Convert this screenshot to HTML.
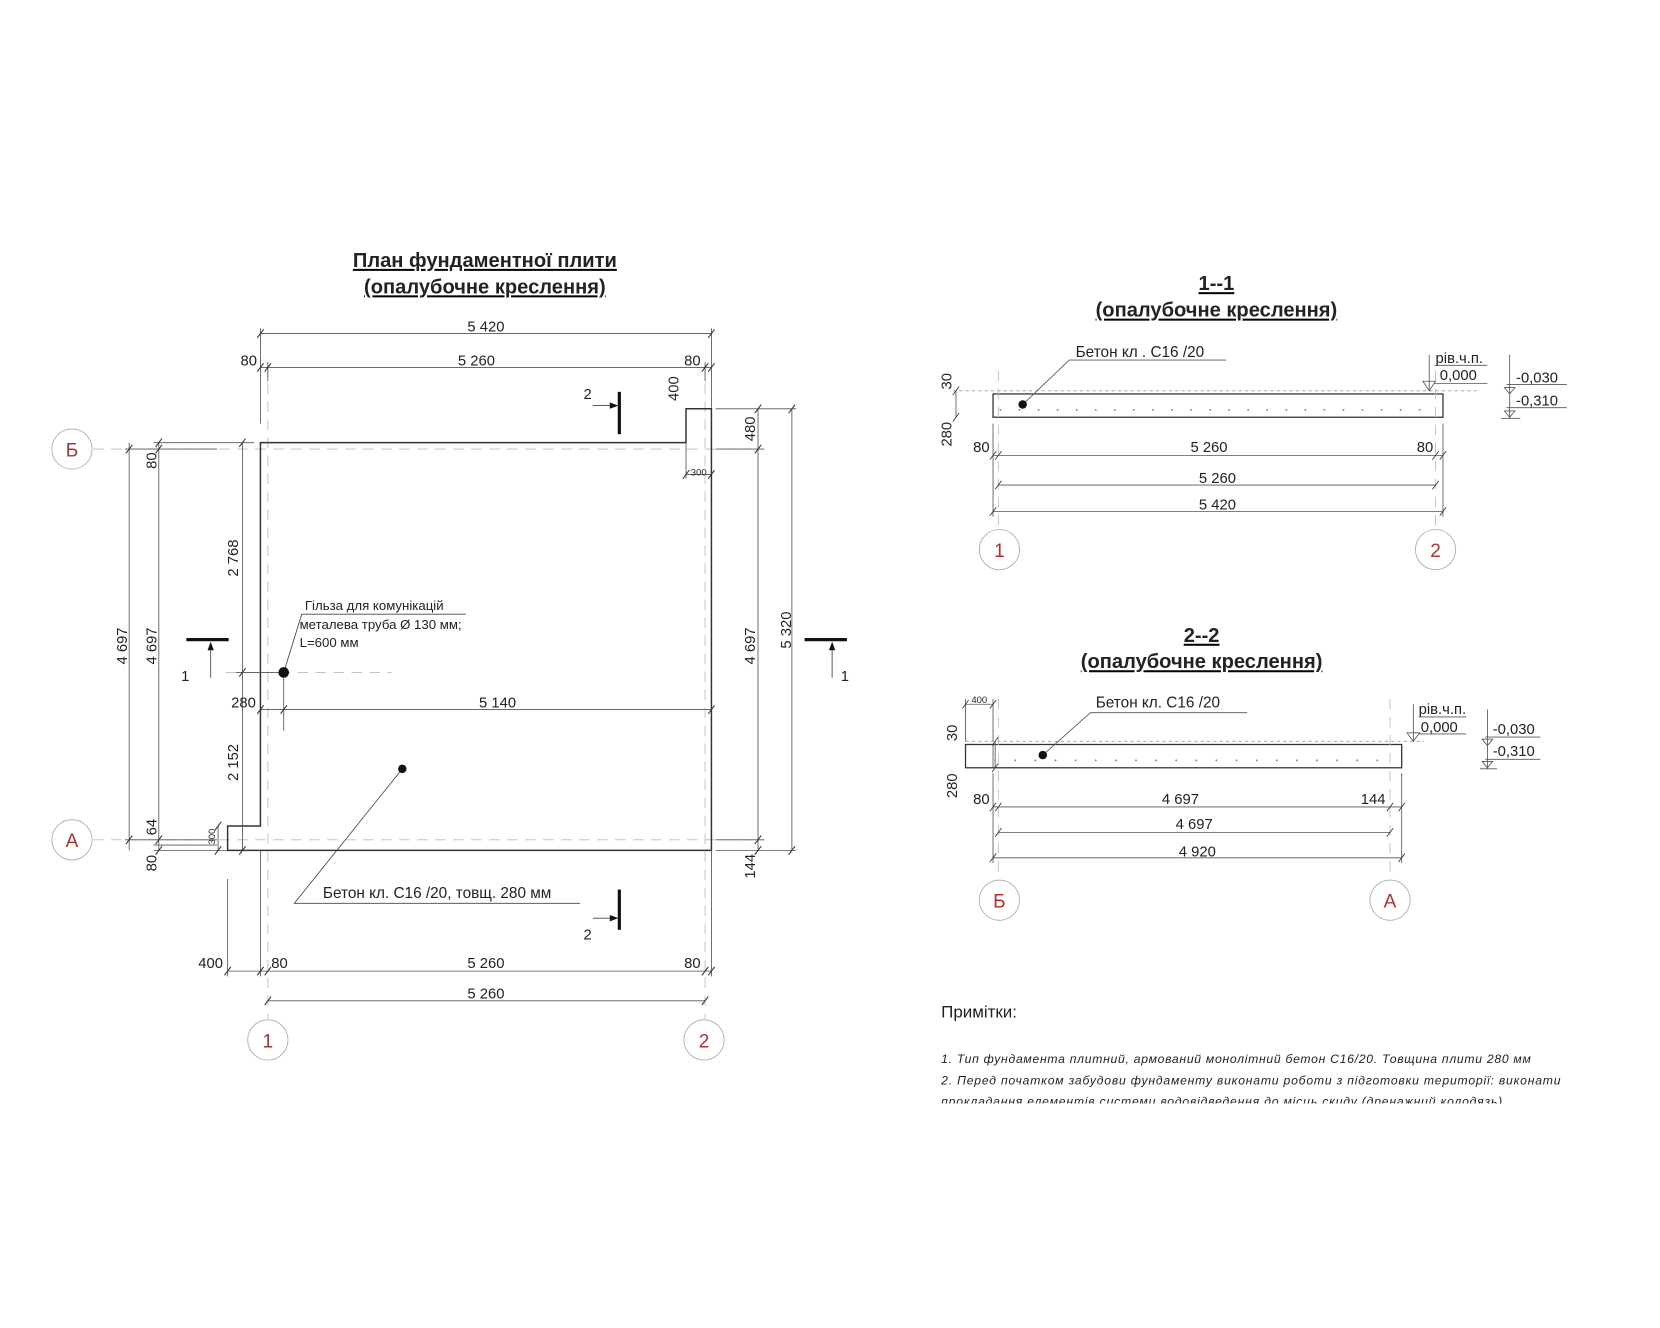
<!DOCTYPE html>
<html><head><meta charset="utf-8"><style>
html,body{margin:0;padding:0;background:#fff;}
svg{display:block;}
text{font-family:"Liberation Sans",sans-serif;fill:#222;}
.d{font-size:14px;}
.r{fill:#b03030;font-size:18px;}
</style></head><body>
<svg width="1660" height="1328" viewBox="0 0 1568 1254" preserveAspectRatio="none" xmlns="http://www.w3.org/2000/svg">
<rect width="1568" height="1254" fill="#fff"/>
<g stroke="#555" stroke-width="0.8" fill="none">
<g stroke="#bbb" stroke-dasharray="10,7">
<line x1="88" y1="424" x2="712" y2="424"/>
<line x1="88" y1="793" x2="712" y2="793"/>
<line x1="253" y1="345" x2="253" y2="962"/>
<line x1="666" y1="345" x2="666" y2="962"/>
<line x1="213" y1="635" x2="370" y2="635"/>
</g>
<path d="M246 418 L648 418 L648 386 L672 386 L672 803 L215 803 L215 780 L246 780 Z" stroke="#333" stroke-width="1.4"/>
<line x1="246" y1="315" x2="672" y2="315"/>
<line x1="246" y1="347" x2="672" y2="347"/>
<line x1="246" y1="310" x2="246" y2="400"/>
<line x1="672" y1="310" x2="672" y2="385"/>
<line x1="253" y1="342" x2="253" y2="360"/>
<line x1="666" y1="342" x2="666" y2="360"/>
<line x1="122" y1="418" x2="122" y2="803"/>
<line x1="150" y1="418" x2="150" y2="803"/>
<line x1="229" y1="418" x2="229" y2="803"/>
<line x1="118" y1="424" x2="205" y2="424"/>
<line x1="145" y1="418" x2="240" y2="418"/>
<line x1="118" y1="793" x2="205" y2="793"/>
<line x1="145" y1="798" x2="205" y2="798"/>
<line x1="145" y1="803" x2="215" y2="803"/>
<line x1="206" y1="780" x2="206" y2="803"/>
<line x1="223" y1="635" x2="268" y2="635"/>
<line x1="716" y1="386" x2="716" y2="803"/>
<line x1="748" y1="386" x2="748" y2="803"/>
<line x1="676" y1="386" x2="752" y2="386"/>
<line x1="676" y1="424" x2="722" y2="424"/>
<line x1="676" y1="793" x2="722" y2="793"/>
<line x1="676" y1="803" x2="752" y2="803"/>
<line x1="648" y1="448" x2="672" y2="448"/>
<line x1="648" y1="418" x2="648" y2="452"/>
<line x1="246" y1="670" x2="672" y2="670"/>
<line x1="268" y1="640" x2="268" y2="690"/>
<line x1="215" y1="917" x2="672" y2="917"/>
<line x1="253" y1="945" x2="666" y2="945"/>
<line x1="215" y1="830" x2="215" y2="922"/>
<line x1="246" y1="803" x2="246" y2="922"/>
<line x1="672" y1="803" x2="672" y2="922"/>
<g stroke="#333" stroke-width="1">
<path d="M243 319l6-8M669 319l6-8M243 351l6-8M250 351l6-8M663 351l6-8M669 351l6-8
M119 428l6-8M119 797l6-8M147 422l6-8M147 428l6-8M147 797l6-8M147 807l6-8M226 422l6-8M226 807l6-8M226 639l6-8
M713 390l6-8M713 428l6-8M713 797l6-8M713 807l6-8M745 390l6-8M745 807l6-8
M243 674l6-8M265 674l6-8M669 674l6-8
M212 921l6-8M243 921l6-8M250 921l6-8M663 921l6-8M669 921l6-8M250 949l6-8M663 949l6-8
M645 452l6-8M669 452l6-8M203 784l6-8M203 807l6-8"/>
</g>
<polyline points="268,635 285,580 440,580" stroke="#444"/>
<polyline points="380,726 278,853 548,853" stroke="#444"/>
</g>
<circle cx="268" cy="635" r="5" fill="#111"/>
<circle cx="380" cy="726" r="4" fill="#111"/>
<g stroke="#111" stroke-width="3">
<line x1="585" y1="370" x2="585" y2="410"/>
<line x1="585" y1="840" x2="585" y2="878"/>
<line x1="176" y1="604" x2="216" y2="604"/>
<line x1="760" y1="604" x2="800" y2="604"/>
</g>
<g stroke="#444" stroke-width="0.8">
<line x1="560" y1="383" x2="580" y2="383"/><line x1="560" y1="867" x2="580" y2="867"/>
<line x1="199" y1="640" x2="199" y2="610"/><line x1="786" y1="640" x2="786" y2="610"/>
</g>
<g fill="#111"><path d="M584 383l-8-3v6z"/><path d="M584 867l-8-3v6z"/><path d="M199 606l-3 8h6z"/><path d="M786 606l-3 8h6z"/></g>
<g fill="none" stroke="#aaa" stroke-width="0.8">
<circle cx="68" cy="424" r="19"/><circle cx="68" cy="793" r="19"/>
<circle cx="253" cy="982" r="19"/><circle cx="665" cy="982" r="19"/>
<circle cx="944" cy="519" r="19"/><circle cx="1356" cy="519" r="19"/>
<circle cx="944" cy="850" r="19"/><circle cx="1313" cy="850" r="19"/>
</g>
<g class="r" text-anchor="middle">
<text x="68" y="431" class="r">Б</text><text x="68" y="800" class="r">А</text>
<text x="253" y="989" class="r">1</text><text x="665" y="989" class="r">2</text>
<text x="944" y="526" class="r">1</text><text x="1356" y="526" class="r">2</text>
<text x="944" y="857" class="r">Б</text><text x="1313" y="857" class="r">А</text>
</g>
<g text-anchor="middle" font-weight="bold" font-size="19" text-decoration="underline">
<text x="458" y="252">План фундаментної плити</text>
<text x="458" y="277">(опалубочне креслення)</text>
<text x="1149" y="274">1--1</text>
<text x="1149" y="299">(опалубочне креслення)</text>
<text x="1135" y="606">2--2</text>
<text x="1135" y="631">(опалубочне креслення)</text>
</g>
<g class="d" text-anchor="middle">
<text x="459" y="313">5 420</text>
<text x="450" y="345">5 260</text>
<text x="235" y="345">80</text><text x="654" y="345">80</text>
<text x="470" y="668">5 140</text><text x="230" y="668">280</text>
<text x="199" y="914">400</text><text x="264" y="914">80</text><text x="459" y="914">5 260</text><text x="654" y="914">80</text>
<text x="459" y="943">5 260</text>
<text x="660" y="449" font-size="9">300</text>
<text transform="translate(120,610) rotate(-90)">4 697</text>
<text transform="translate(148,610) rotate(-90)">4 697</text>
<text transform="translate(148,435) rotate(-90)">80</text>
<text transform="translate(148,781) rotate(-90)">64</text>
<text transform="translate(148,815) rotate(-90)">80</text>
<text transform="translate(225,527) rotate(-90)">2 768</text>
<text transform="translate(225,720) rotate(-90)">2 152</text>
<text transform="translate(203,790) rotate(-90)" font-size="9">300</text>
<text transform="translate(713,610) rotate(-90)">4 697</text>
<text transform="translate(713,405) rotate(-90)">480</text>
<text transform="translate(713,818) rotate(-90)">144</text>
<text transform="translate(747,595) rotate(-90)">5 320</text>
<text transform="translate(641,367) rotate(-90)">400</text>
<text x="555" y="377">2</text><text x="555" y="887">2</text>
<text x="175" y="643">1</text><text x="798" y="643">1</text>
</g>
<g font-size="12.5">
<text x="288" y="576">Гільза для комунікацій</text>
<text x="283" y="594">металева труба  Ø 130 мм;</text>
<text x="283" y="611">L=600 мм</text>
<text x="305" y="848" font-size="14.5">Бетон кл. С16 /20, товщ. 280 мм</text>
</g>

<g stroke="#555" stroke-width="0.8" fill="none">
<line x1="900" y1="369" x2="1395" y2="369" stroke="#999" stroke-dasharray="3,3"/>
<rect x="938" y="372" width="425" height="22" stroke="#333" stroke-width="1.2"/>
<line x1="943" y1="350" x2="943" y2="500" stroke="#bbb" stroke-dasharray="10,7"/>
<line x1="1356" y1="350" x2="1356" y2="500" stroke="#bbb" stroke-dasharray="10,7"/>
<polyline points="966,382 1010,340 1158,340"/>
<line x1="938" y1="430" x2="1363" y2="430"/>
<line x1="943" y1="458" x2="1356" y2="458"/>
<line x1="938" y1="483" x2="1363" y2="483"/>
<line x1="938" y1="400" x2="938" y2="488"/><line x1="1363" y1="400" x2="1363" y2="488"/>
<line x1="903" y1="369" x2="903" y2="394"/>
<line x1="1426" y1="335" x2="1426" y2="395"/>
<line x1="1423" y1="363" x2="1480" y2="363"/><line x1="1423" y1="385" x2="1480" y2="385"/>
<line x1="1418" y1="395" x2="1436" y2="395"/>
<path d="M1421 366h10l-5 6zM1421 388h10l-5 6z"/>
<line x1="1355" y1="345" x2="1405" y2="345"/><line x1="1355" y1="362" x2="1405" y2="362"/>
<line x1="1350" y1="335" x2="1350" y2="369"/>
<path d="M1344 360h12l-6 9z"/>
<path d="M935 434l6-8M940 434l6-8M1353 434l6-8M1360 434l6-8M940 462l6-8M1353 462l6-8M935 487l6-8M1360 487l6-8M900 373l6-8M900 398l6-8" stroke="#333"/>
</g>
<circle cx="966" cy="382" r="4" fill="#111"/>
<g fill="#888">
<circle cx="945" cy="387" r="0.9"/><circle cx="963" cy="387" r="0.9"/><circle cx="981" cy="387" r="0.9"/><circle cx="999" cy="387" r="0.9"/><circle cx="1017" cy="387" r="0.9"/><circle cx="1035" cy="387" r="0.9"/><circle cx="1053" cy="387" r="0.9"/><circle cx="1071" cy="387" r="0.9"/><circle cx="1089" cy="387" r="0.9"/><circle cx="1107" cy="387" r="0.9"/><circle cx="1125" cy="387" r="0.9"/><circle cx="1143" cy="387" r="0.9"/><circle cx="1161" cy="387" r="0.9"/><circle cx="1179" cy="387" r="0.9"/><circle cx="1197" cy="387" r="0.9"/><circle cx="1215" cy="387" r="0.9"/><circle cx="1233" cy="387" r="0.9"/><circle cx="1251" cy="387" r="0.9"/><circle cx="1269" cy="387" r="0.9"/><circle cx="1287" cy="387" r="0.9"/><circle cx="1305" cy="387" r="0.9"/><circle cx="1323" cy="387" r="0.9"/><circle cx="1341" cy="387" r="0.9"/>
</g>
<g class="d">
<text x="1016" y="337" font-size="14.5">Бетон кл . С16 /20</text>
<text x="1356" y="343">рів.ч.п.</text>
<text x="1360" y="359">0,000</text>
<text x="1432" y="361">-0,030</text>
<text x="1432" y="383">-0,310</text>
<g text-anchor="middle">
<text x="927" y="427">80</text><text x="1142" y="427">5 260</text><text x="1346" y="427">80</text>
<text x="1150" y="456">5 260</text><text x="1150" y="481">5 420</text>
<text transform="translate(899,360) rotate(-90)">30</text>
<text transform="translate(899,410) rotate(-90)">280</text>
</g>
</g>

<g stroke="#555" stroke-width="0.8" fill="none">
<line x1="912" y1="700" x2="1345" y2="700" stroke="#999" stroke-dasharray="3,3"/>
<rect x="912" y="703" width="412" height="22" stroke="#333" stroke-width="1.2"/>
<line x1="938" y1="703" x2="938" y2="725"/>
<line x1="943" y1="660" x2="943" y2="830" stroke="#bbb" stroke-dasharray="10,7"/>
<line x1="1313" y1="660" x2="1313" y2="830" stroke="#bbb" stroke-dasharray="10,7"/>
<polyline points="985,713 1030,673 1178,673"/>
<line x1="912" y1="665" x2="938" y2="665"/>
<line x1="912" y1="660" x2="912" y2="700"/><line x1="938" y1="660" x2="938" y2="700"/>
<line x1="938" y1="762" x2="1324" y2="762"/>
<line x1="943" y1="786" x2="1313" y2="786"/>
<line x1="938" y1="810" x2="1324" y2="810"/>
<line x1="938" y1="730" x2="938" y2="815"/><line x1="1324" y1="730" x2="1324" y2="815"/>
<line x1="940" y1="700" x2="940" y2="725"/>
<line x1="1340" y1="677" x2="1385" y2="677"/><line x1="1340" y1="693" x2="1385" y2="693"/>
<line x1="1335" y1="665" x2="1335" y2="700"/>
<path d="M1329 692h12l-6 8z"/>
<line x1="1405" y1="670" x2="1405" y2="726"/>
<line x1="1403" y1="696" x2="1455" y2="696"/><line x1="1403" y1="717" x2="1455" y2="717"/>
<line x1="1398" y1="726" x2="1414" y2="726"/>
<path d="M1400 698h10l-5 6zM1400 719h10l-5 6z"/>
<path d="M935 766l6-8M940 766l6-8M1310 766l6-8M1321 766l6-8M940 790l6-8M1310 790l6-8M935 814l6-8M1321 814l6-8M909 669l6-8M935 669l6-8M937 704l6-8M937 729l6-8" stroke="#333"/>
</g>
<circle cx="985" cy="713" r="4" fill="#111"/>
<g fill="#888">
<circle cx="940" cy="718" r="0.9"/><circle cx="959" cy="718" r="0.9"/><circle cx="978" cy="718" r="0.9"/><circle cx="997" cy="718" r="0.9"/><circle cx="1016" cy="718" r="0.9"/><circle cx="1035" cy="718" r="0.9"/><circle cx="1054" cy="718" r="0.9"/><circle cx="1073" cy="718" r="0.9"/><circle cx="1092" cy="718" r="0.9"/><circle cx="1111" cy="718" r="0.9"/><circle cx="1130" cy="718" r="0.9"/><circle cx="1149" cy="718" r="0.9"/><circle cx="1168" cy="718" r="0.9"/><circle cx="1187" cy="718" r="0.9"/><circle cx="1206" cy="718" r="0.9"/><circle cx="1225" cy="718" r="0.9"/><circle cx="1244" cy="718" r="0.9"/><circle cx="1263" cy="718" r="0.9"/><circle cx="1282" cy="718" r="0.9"/><circle cx="1301" cy="718" r="0.9"/>
</g>
<g class="d">
<text x="1035" y="668" font-size="14.5">Бетон кл. С16 /20</text>
<text x="1340" y="674">рів.ч.п.</text>
<text x="1342" y="691">0,000</text>
<text x="1410" y="693">-0,030</text>
<text x="1410" y="714">-0,310</text>
<text x="925" y="664" font-size="9" text-anchor="middle">400</text>
<g text-anchor="middle">
<text x="927" y="759">80</text><text x="1115" y="759">4 697</text><text x="1297" y="759">144</text>
<text x="1128" y="783">4 697</text><text x="1131" y="809">4 920</text>
<text transform="translate(904,692) rotate(-90)">30</text>
<text transform="translate(904,742) rotate(-90)">280</text>
</g>
</g>

<text x="889" y="961" font-size="16" font-family="DejaVu Sans Condensed, Liberation Sans, sans-serif">Примітки:</text>
<defs><clipPath id="c"><rect x="880" y="990" width="620" height="52"/></clipPath></defs>
<g clip-path="url(#c)" font-size="11.5" font-style="italic" fill="#222">
<text x="889" y="1004" textLength="557">1. Тип фундамента плитний, армований монолітний бетон С16/20. Товщина плити 280 мм</text>
<text x="889" y="1024" textLength="585">2. Перед початком забудови фундаменту виконати роботи з підготовки території: виконати</text>
<text x="889" y="1044" textLength="530">прокладання елементів системи водовідведення до місць скиду (дренажний колодязь)</text>
</g>
</svg>
</body></html>
